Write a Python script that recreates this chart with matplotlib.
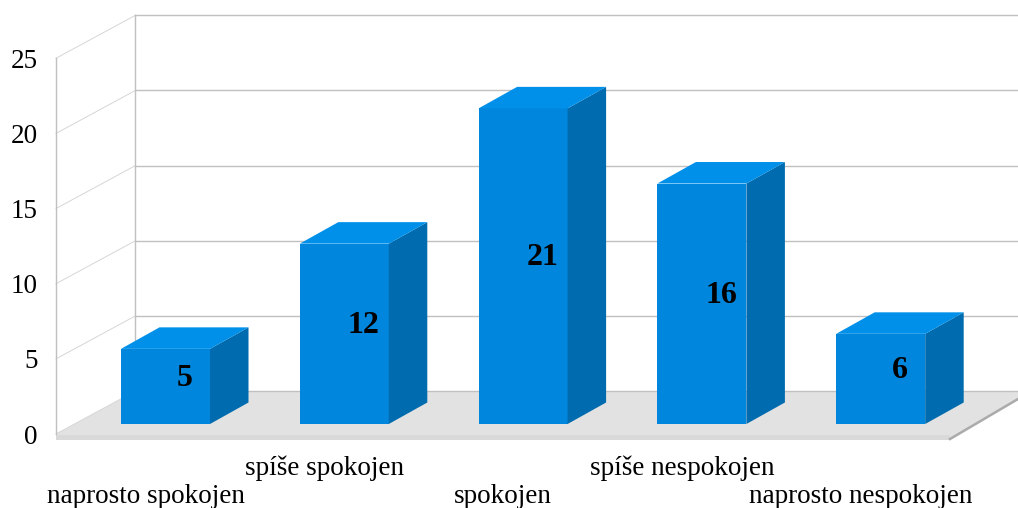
import matplotlib
matplotlib.use("Agg")
import matplotlib.pyplot as plt
from matplotlib.patches import Polygon

categories = ["naprosto spokojen", "spíše spokojen", "spokojen", "spíše nespokojen", "naprosto nespokojen"]
values = [5, 12, 21, 16, 6]
y_ticks = [0, 5, 10, 15, 20, 25]

W, H = 1018, 508
PX_X, PX_Y = 178.8, 15.03      # pixels per category / per unit
X0, Y0 = 165.5, 424.0          # pixel of first bar centre / bar baseline

plt.rcParams["font.family"] = ["Liberation Serif", "DejaVu Serif"]
fig = plt.figure(figsize=(W / 100, H / 100), dpi=100)
ax = fig.add_axes([0, 0, 1, 1])
ax.set_xlim(-X0 / PX_X, (W - X0) / PX_X)
ax.set_ylim((Y0 - H) / PX_Y, Y0 / PX_Y)
ax.axis("off")

def dx(p): return p / PX_X
def dy(p): return p / PX_Y

# chart frame geometry, in data units relative to bars
left = dx(56 - X0)
front0 = dy(Y0 - 434)
depth_x, depth_y = dx(79.5), dy(43)
right_end = dx(W - X0)
floor_right = dx(950 - X0)

# floor
strip = dy(6)
ax.add_patch(Polygon([(left, front0), (left + depth_x, front0 + depth_y),
                      (right_end, front0 + depth_y), (right_end, front0 + dy(34)),
                      (floor_right, front0 - strip), (left, front0 - strip)],
                     closed=True, fc="#E2E2E2", ec="none", zorder=1))
ax.add_patch(Polygon([(left, front0 - strip + dy(5)), (floor_right, front0 - strip + dy(5)),
                      (floor_right, front0 - strip), (left, front0 - strip)],
                     closed=True, fc="#D9D9D9", ec="none", zorder=1.1))
ax.plot([floor_right, right_end], [front0 - strip + dy(1), front0 + dy(35)], color="#ABABAB", lw=1.8, zorder=1.2)

# walls and gridlines
for t in y_ticks:
    ax.plot([left + depth_x, right_end], [front0 + t + depth_y] * 2, color="#C0C0C0", lw=1.0, zorder=2)
    ax.plot([left, left + depth_x], [front0 + t, front0 + t + depth_y], color="#D6D6D6", lw=0.7, zorder=2)
    ax.text(dx(38 - X0), front0 + t - dy(3), str(t), ha="right", va="center", fontsize=19.5, color="black")
ax.plot([left, left], [front0, front0 + max(y_ticks)], color="#C0C0C0", lw=1.0, zorder=2)
ax.plot([left + depth_x] * 2, [front0 + depth_y, front0 + max(y_ticks) + depth_y], color="#C0C0C0", lw=1.0, zorder=2)

# 3-D bars
half = dx(44.5)
bx, by = dx(38.5), dy(21.5)
for i, v in enumerate(values):
    ax.add_patch(Polygon([(i - half, 0), (i + half, 0), (i + half, v), (i - half, v)],
                         closed=True, fc="#0086DC", ec="none", zorder=4))
    ax.add_patch(Polygon([(i + half, 0), (i + half + bx, by), (i + half + bx, v + by), (i + half, v)],
                         closed=True, fc="#006BAE", ec="none", zorder=4))
    ax.add_patch(Polygon([(i - half, v), (i + half, v), (i + half + bx, v + by), (i - half + bx, v + by)],
                         closed=True, fc="#0090E9", ec="none", zorder=4))
    ax.text(i + bx / 2, v / 2 + by / 2 - dy(2.5), str(v), ha="center", va="center",
            fontsize=23, fontweight="bold", color="black", zorder=5)
    row = 0 if i % 2 else 1
    ax.text(i + dx(-20), dy(-44) - row * dy(28.5), categories[i], ha="center", va="center",
            fontsize=19.5, color="black")

fig.savefig("out.png", dpi=100)
